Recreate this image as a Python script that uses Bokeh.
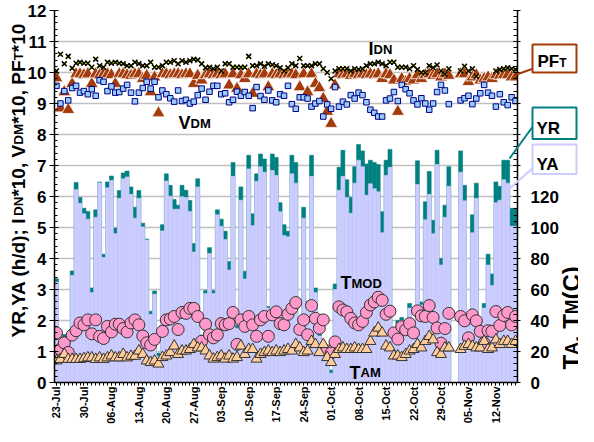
import numpy as np
from math import pi
from bokeh.plotting import figure
from bokeh.models import (ColumnDataSource, Range1d, LinearAxis, FixedTicker,
                          SingleIntervalTicker, Label, GridBox)
from bokeh.core.properties import value
from bokeh.embed import file_html
from bokeh.resources import INLINE

NaN = float("nan")

tick_labels = ["23-Jul", "30-Jul", "06-Aug", "13-Aug", "20-Aug", "27-Aug", "03-Sep",
               "10-Sep", "17-Sep", "24-Sep", "01-Oct", "08-Oct", "15-Oct", "22-Oct",
               "29-Oct", "05-Nov", "12-Nov"]

# YR and YA (h/d), one value per day from 23-Jul
yr = [3.35, 1.35, 1.55, 1.35, 3.60, 6.45, 5.97, 5.62, 5.52, 3.05,
      5.57, 6.47, 4.14, 6.47, 6.66, 4.98, 6.19, 6.76, 6.82, 6.31,
      5.65, 6.19, 5.14, 4.63, 2.30, 2.95, 0.95, 5.09, 6.73, 6.36,
      5.90, 5.72, 6.36, 6.20, 5.87, 4.48, 6.57, 1.53, 2.97, 4.35,
      2.97, 5.57, 5.27, 4.88, 3.90, 7.10, 1.85, 6.31, 3.59, 7.33,
      5.44, 6.73, 7.37, 7.21, 2.45, 7.37, 7.26, 5.80, 5.09, 4.88,
      7.33, 7.10, 1.95, 5.65, 2.62, 7.33, 3.05, 1.60, 0.95, 0.95,
      0.40, 3.18, 6.94, 7.49, 6.54, 5.97, 6.96, 7.68, 7.47, 7.05,
      7.17, 7.10, 7.03, 5.51, 7.17, 7.52, 1.70, 2.00, 2.10, 1.95,
      2.55, 2.00, 7.15, 2.60, 5.83, 6.81, 5.23, 7.49, 4.00, 5.72,
      6.96, 0.00, 0.00, 7.47, 6.36, 1.95, 5.41, 6.43, 1.70, 2.55,
      4.14, 3.50, 6.47, 6.33, 7.17, 7.17, 5.62, 5.62]
ya = [3.24, 1.30, 1.45, 1.30, 3.45, 6.22, 5.78, 5.44, 5.27, 2.90,
      5.33, 6.44, 4.03, 6.28, 6.52, 4.80, 5.94, 6.57, 6.63, 6.07,
      5.30, 5.94, 5.02, 4.60, 2.20, 2.85, 0.85, 4.89, 6.50, 6.01,
      5.59, 5.59, 5.99, 5.97, 5.52, 4.21, 6.31, 1.45, 2.87, 4.16,
      2.87, 5.41, 5.04, 4.61, 3.63, 6.65, 1.75, 5.88, 3.34, 6.89,
      5.06, 6.49, 6.96, 6.78, 2.40, 6.84, 6.68, 5.51, 4.74, 4.70,
      6.73, 6.43, 1.90, 5.30, 2.50, 6.65, 2.90, 1.50, 0.90, 0.90,
      0.30, 3.00, 6.20, 6.65, 5.97, 5.46, 6.43, 7.17, 6.96, 6.04,
      6.41, 6.25, 6.15, 4.83, 6.68, 6.94, 1.60, 1.90, 2.00, 1.80,
      2.40, 1.90, 6.39, 2.50, 5.25, 6.07, 4.80, 7.03, 3.79, 5.33,
      6.33, 0.00, 0.00, 6.78, 5.86, 1.85, 4.83, 5.94, 1.60, 2.40,
      3.79, 3.13, 5.80, 5.88, 6.54, 6.43, 5.04, 5.04]
# IDN*10, PFT*10, VDM*10 (left axis)
idn10 = [10.05, 10.59, 10.28, 10.52, 10.14, 10.30, 10.33, 10.30, 10.30, 10.17,
         10.43, 10.22, 10.17, 10.33, 10.30, 10.33, 10.30, 10.28, 10.22, 10.22,
         10.33, 10.28, 10.22, 10.22, 10.33, 10.17, 10.17, 10.22, 10.33, 10.33,
         10.38, 10.28, 10.38, 10.33, 10.38, 10.43, 10.40, 10.28, 10.15, 10.17,
         10.12, 10.17, 10.05, 10.28, 10.28, 10.17, 10.17, 10.17, 10.17, 10.52,
         10.22, 10.22, 10.28, 10.20, 10.28, 10.25, 10.22, 10.15, 10.05, 10.15,
         10.28, 10.22, 10.45, 10.22, 10.22, 10.22, 10.28, 10.28, 10.12, 10.00,
         9.80, 10.05, 10.12, 10.12, 10.12, 10.05, 10.12, 10.10, 10.12, 10.22,
         10.28, 10.28, 10.33, 10.28, 10.22, 10.33, 10.33, 10.17, 10.17, 10.17,
         10.12, 10.22, 10.10, 10.00, 10.00, 10.22, 10.15, 10.24, 10.05, 9.95,
         10.12, NaN, NaN, 10.05, 10.20, 10.05, 10.12, 9.88, NaN, NaN,
         NaN, NaN, 10.05, 10.10, 10.12, 10.15, 10.12, 10.10]
pft10 = [9.82, 8.85, 9.37, 8.80, 9.64, 9.95, 9.95, 9.92, 9.95, 9.64,
         9.95, 9.92, 9.95, 9.95, 9.92, 9.64, 9.95, 9.95, 9.92, 9.90,
         9.95, 9.95, 9.80, 9.90, 9.37, 9.85, 8.69, 9.95, 9.95, 9.92,
         9.95, 9.95, 9.92, 9.95, 9.95, 9.64, 9.90, 9.75, 9.92, 9.95,
         9.92, 9.95, 9.92, 9.95, 9.59, 9.95, 9.48, 9.92, 9.80, 9.95,
         9.32, 9.95, 9.92, 9.95, 9.53, 9.95, 9.92, 9.95, 9.92, 9.95,
         9.95, 9.92, 9.53, 9.95, 9.37, 9.95, 9.64, 9.50, 9.16, 8.74,
         8.35, 9.59, 9.95, 9.92, 9.95, 9.90, 9.95, 9.92, 9.95, 9.92,
         9.95, 9.92, 9.95, 9.80, 9.95, 9.92, 9.75, 8.74, 9.80, 9.70,
         9.80, 9.75, 9.92, 9.80, 9.92, 9.95, 9.90, 9.95, 9.85, 9.95,
         9.90, NaN, NaN, 9.95, 9.95, 9.70, 9.85, 9.92, 9.75, 9.80,
         9.85, 9.80, 9.92, 9.90, 9.92, 9.92, 9.85, 9.85]
vdm10 = [9.57, 9.00, 9.40, 9.10, 9.50, 9.57, 9.35, 9.40, 9.30, 9.46,
         9.25, 9.75, 9.70, 9.40, 9.55, 9.35, 9.37, 9.48, 9.60, 9.35,
         9.07, 9.35, 9.50, 9.70, 9.48, 9.70, 9.20, 9.42, 9.30, 9.17,
         9.06, 9.42, 9.08, 9.12, 9.00, 9.06, 9.27, 9.48, 9.12, 9.38,
         9.57, 9.57, 9.30, 9.33, 9.04, 9.12, 9.38, 9.25, 9.37, 9.25,
         8.85, 9.53, 9.24, 9.12, 9.42, 9.10, 9.04, 9.30, 9.25, 9.57,
         8.98, 8.83, 9.20, 9.20, 9.16, 8.90, 9.00, 9.08, 8.58, 8.97,
         8.83, 9.53, 8.90, 9.06, 8.97, 9.27, 9.16, 9.35, 9.27, 9.04,
         8.80, 8.70, 8.58, 8.58, 9.10, 9.16, 9.37, 9.08, 9.60, 9.46,
         9.33, 9.10, 8.97, 9.17, 9.00, 8.80, 9.00, 9.37, 9.60, 9.42,
         8.98, NaN, NaN, 9.10, 9.17, 9.25, 8.98, 9.16, 9.33, 9.60,
         9.35, 9.25, 8.90, 9.30, 9.04, 8.95, 9.20, 9.08]
# TMOD and TAM (C, right axis)
tmod = [32.0, 21.4, 25.6, 19.4, 30.6, 33.4, 38.4, 37.2, 40.4, 31.4,
        40.4, 29.8, 28.4, 36.2, 32.6, 37.6, 37.6, 34.8, 32.6, 38.4,
        40.4, 37.2, 30.0, 25.6, 24.2, 27.8, NaN, 33.0, 40.4, 41.0,
        42.6, 34.2, 45.2, 44.6, 47.8, 47.8, 42.6, 26.6, 37.6, 30.8,
        28.8, 30.8, 38.0, 37.2, 38.0, 45.2, 24.6, 40.4, 36.2, 42.6,
        37.2, 29.8, 40.4, 42.6, 29.8, 43.6, 45.6, 38.0, 37.2, 44.0,
        47.8, 51.6, 34.2, 40.4, 30.8, 49.6, 41.4, 35.0, 40.4, 20.4,
        19.0, 26.2, 48.8, 46.8, 45.6, 41.4, 38.4, 37.2, 39.4, 45.2,
        50.0, 52.0, 55.0, 53.0, 44.0, 46.0, 32.0, 28.0, 36.0, 34.0,
        38.0, 32.0, 46.2, 43.0, 42.6, 49.6, 42.0, 35.2, 25.4, 34.8,
        44.6, NaN, NaN, 42.6, 39.8, 28.8, 43.6, 39.8, 33.0, 25.4,
        33.4, 33.0, 45.8, 36.8, 43.2, 45.2, 37.2, 42.6]
tam = [14.0, 15.0, 18.2, 15.0, 15.0, 15.0, 15.0, 15.5, 16.0, 16.0,
       15.0, 16.0, 15.0, 16.0, 17.2, 16.0, 16.0, 18.2, 16.0, 17.0,
       17.0, 20.4, 18.2, 14.0, 13.0, 14.0, 12.0, 16.2, 17.2, 19.4,
       23.6, 18.2, 20.4, 20.4, 21.4, 24.6, 22.4, 22.4, 20.4, 17.2,
       15.2, 16.2, 17.2, 15.2, 17.2, 15.2, 16.2, 23.6, 18.2, 21.4,
       21.4, 15.2, 18.2, 19.4, 20.4, 19.4, 20.4, 19.4, 20.4, 21.4,
       20.4, 24.6, 22.4, 19.4, 20.4, 26.6, 24.6, 19.4, 24.6, 16.2,
       13.0, 18.2, 21.4, 22.4, 21.4, 21.4, 22.4, 21.4, 21.4, 21.4,
       26.6, 32.0, 35.2, 32.0, 23.6, 22.4, 17.2, 17.2, 16.2, 18.2,
       20.4, 21.4, 24.6, 22.4, 26.6, 29.8, 27.6, 19.4, 18.2, 22.4,
       22.4, NaN, NaN, 21.4, 23.4, 24.6, 23.4, 22.4, 22.4, 26.6,
       21.4, 22.4, 27.6, 24.6, 26.6, 26.6, 24.6, 26.6]

n = len(yr)
src = ColumnDataSource(dict(
    d=np.arange(n), yr=np.array(yr, float), ya=np.array(ya, float),
    idn=np.array(idn10, float), pft=np.array(pft10, float), vdm=np.array(vdm10, float),
    tmod=np.array(tmod, float), tam=np.array(tam, float)))

FONT = "Liberation Sans"
W, H = 578, 426
# frame in page pixels
FL, FR, FT, FB = 62.0, 525.0, 18.0, 392.0
p = figure(width=W, height=H, output_backend="svg", toolbar_location=None,
           x_range=Range1d(-0.5, n - 0.5), y_range=Range1d(0, 12),
           min_border_left=int(FL - 8), min_border_right=int(W + 8 - FR),
           min_border_top=int(FT - 8), min_border_bottom=int(H + 8 - FB))
p.extra_y_ranges = {"t": Range1d(0, 240)}
p.outline_line_color = None
p.background_fill_color = "white"
p.border_fill_color = "white"
p.xgrid.visible = False
p.ygrid.grid_line_color = "#C0C0C0"
p.ygrid.grid_line_width = 1.5

# axes
la = p.left[0]
la.ticker = SingleIntervalTicker(interval=1, num_minor_ticks=5)
ra = LinearAxis(y_range_name="t", ticker=SingleIntervalTicker(interval=20, num_minor_ticks=5))
ra.major_label_overrides = {v: "" for v in range(140, 241, 20)}
p.add_layout(ra, "right")
for ax in (la, ra):
    ax.major_label_text_font = FONT
    ax.major_label_text_font_style = "bold"
    ax.major_label_text_font_size = "17px"
    ax.major_label_text_color = "black"
    ax.axis_line_color = "black"
    ax.axis_line_width = 1.5
    ax.major_tick_line_color = "black"
    ax.minor_tick_line_color = "black"
la.major_tick_in, la.major_tick_out = 4, 5
la.minor_tick_in, la.minor_tick_out = 3, 0
la.major_label_standoff = 3
ra.major_tick_in, ra.major_tick_out = 4, 3
ra.minor_tick_in, ra.minor_tick_out = 4, 0
ra.major_label_standoff = 10

xa = p.below[0]
xa.ticker = FixedTicker(ticks=[7 * i for i in range(len(tick_labels))], minor_ticks=list(range(n)))
xa.major_label_overrides = {7 * i: s for i, s in enumerate(tick_labels)}
xa.major_label_orientation = pi / 2
xa.major_label_text_font = FONT
xa.major_label_text_font_style = "bold"
xa.major_label_text_font_size = "11px"
xa.major_label_text_color = "black"
xa.axis_line_color = "black"
xa.axis_line_width = 1.5
xa.major_tick_in, xa.major_tick_out = 0, 3
xa.minor_tick_in, xa.minor_tick_out = 0, 3
xa.major_label_standoff = 1

# bars
p.vbar(x="d", top="yr", width=1.0, source=src, fill_color="#008080",
       line_color="#008080", line_width=0.6)
p.vbar(x="d", top="ya", width=1.0, source=src, fill_color="#CCCCFF",
       line_color="#CCCCFF", line_width=0.6)

# temperatures (right axis)
p.scatter("d", "tmod", source=src, y_range_name="t", marker="circle", size=12,
          fill_color="#FF99CC", line_color="#333333", line_width=1)
p.scatter("d", "tam", source=src, y_range_name="t", marker="triangle", size=11,
          fill_color="#FFCC99", line_color="#333333", line_width=1)
# IDN, PFT, VDM (left axis)
p.scatter("d", "pft", source=src, marker="triangle", size=13,
          fill_color="#A33B0B", line_color="white", line_width=0.8)
p.scatter("d", "idn", source=src, marker="square", size=3.5, fill_color="#FFFF00", line_color=None)
p.scatter("d", "idn", source=src, marker="x", size=7, line_color="black", line_width=1.5)
p.scatter("d", "vdm", source=src, marker="square", size=5.5,
          fill_color="#99CCFF", line_color="#000080", line_width=1)

# ---- text helpers ----
AW = {' ': 278, ',': 278, '(': 333, ')': 333, '/': 278, ';': 333, '*': 389,
      '0': 556, '1': 556, 'A': 722, 'C': 722, 'D': 722, 'F': 611, 'I': 278, 'M': 833,
      'N': 722, 'O': 778, 'P': 667, 'R': 722, 'T': 611, 'V': 667, 'Y': 667,
      'd': 611, 'h': 611}
def tw(s, size):
    return sum(AW.get(c, 556) for c in s) * size / 1000.0

# in-plot series labels (data space of the main figure)
def X(ix):
    return -0.5 + (ix - FL) * n / (FR - FL)
def Y(iy):
    return (FB - iy) * 12.0 / (FB - FT)

def rich_in(pieces, ix, iy):
    cx_ = ix
    for txt, size in pieces:
        p.add_layout(Label(x=X(cx_), y=Y(iy), text=txt, text_font=FONT,
                           text_font_style="bold", text_font_size=f"{size}px",
                           text_color="black", text_align="left", text_baseline="alphabetic"))
        cx_ += tw(txt, size)

rich_in([("I", 18), ("DN", 13)], 376, 57)
rich_in([("V", 18), ("DM", 13)], 186, 131.5)
rich_in([("T", 18), ("MOD", 13)], 348, 292)
rich_in([("T", 18), ("AM", 13)], 357, 382)

# ---- transparent overlay figure (whole canvas = frame) for titles and callouts ----
ov = figure(width=W, height=H, output_backend="svg", toolbar_location=None,
            x_range=Range1d(0, W), y_range=Range1d(0, H), min_border=0,
            x_axis_type=None, y_axis_type=None)
ov.outline_line_color = None
ov.background_fill_color = None
ov.border_fill_color = None
for f in (p, ov):
    try:
        f.frame_align = False
    except Exception:
        pass

def cx(ix):
    return ix - 8.0
def cy(iy):
    return H - (iy - 8.0)

def otext(x, y, txt, size, angle=0.0, align="left"):
    ov.text(x=[x], y=[y], text=[txt], angle=angle, text_font=value(FONT),
            text_font_style="bold", text_font_size=value(f"{size}px"), text_color="black",
            text_align=align, text_baseline="alphabetic")

def rich_h(pieces, ix, iy):
    c = ix
    for txt, size, dy in pieces:
        otext(cx(c), cy(iy + dy), txt, size)
        c += tw(txt, size)

def rich_v(pieces, ix, iy, anchor_end=False):
    c = iy
    for txt, size in pieces:
        w = tw(txt, size)
        if anchor_end:
            otext(cx(ix), cy(c - w), txt, size, angle=pi / 2, align="right")
        else:
            otext(cx(ix), cy(c), txt, size, angle=pi / 2)
        c -= w

# axis titles
rich_v([("YR,YA (h/d); I", 19), ("DN", 13.5), ("*10, V", 19), ("DM", 13.5),
        ("*10, PF", 19), ("T", 13.5), ("*10", 19)], 26, 345)
rich_v([("T", 24), ("A", 17.5), (", T", 24), ("M", 17.5), (" (C)", 24)], 579, 377,
       anchor_end=True)

# callouts: leader lines, boxes, texts
lead = dict(x0=[cx(541), cx(541), cx(541)], y0=[cy(76), cy(133), cy(175)],
            x1=[cx(524), cx(517), cx(517)], y1=[cy(82), cy(166), cy(196)],
            c=["#A33B0B", "#008080", "#CCCCFF"])
ov.segment(x0="x0", y0="y0", x1="x1", y1="y1", line_color="c", line_width=2,
           source=ColumnDataSource(lead))
boxes = dict(l=[cx(540)] * 3, r=[cx(584)] * 3, t=[cy(52), cy(115), cy(152)],
             b=[cy(80), cy(146.5), cy(181.5)], c=["#A33B0B", "#008080", "#CCCCFF"])
ov.quad(left="l", right="r", top="t", bottom="b", fill_color="white", line_color="c",
        line_width=2, source=ColumnDataSource(boxes))
rich_h([("PF", 17, 0), ("T", 12, 2)], 545, 68.5)
rich_h([("YR", 17, 0)], 544, 135.5)
rich_h([("YA", 17, 0)], 544, 172)

layout = GridBox(children=[(p, 0, 0), (ov, 0, 0)])
open("out.html", "w").write(file_html(layout, INLINE))
